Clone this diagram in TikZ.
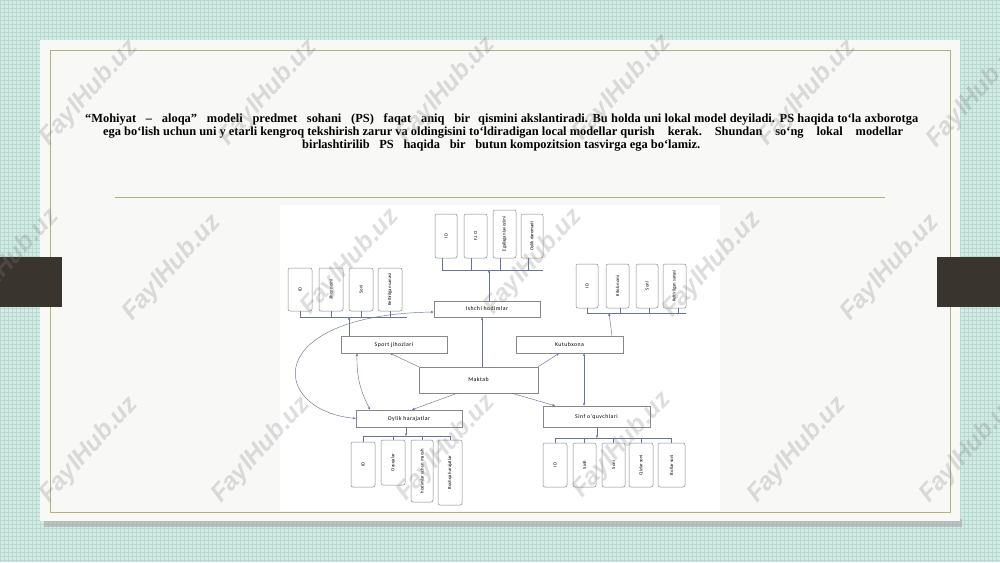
\documentclass[tikz,border=0pt]{standalone}
\usepackage{fontspec}
\setmainfont{Liberation Serif}
\newfontfamily\boxfont[LetterSpace=8]{Carlito}
\newfontfamily\attrfont{Carlito}
\newfontfamily\wmfont{Liberation Sans}
\usetikzlibrary{arrows.meta}
\definecolor{bgc}{RGB}{212,235,229}
\definecolor{gridc}{RGB}{184,217,207}
\definecolor{cardc}{RGB}{248,249,247}
\definecolor{olivec}{RGB}{178,178,122}
\definecolor{tabc}{RGB}{58,52,46}
\definecolor{boxc}{RGB}{135,135,140}
\definecolor{lnc}{RGB}{105,115,160}
\begin{document}
\begin{tikzpicture}[x=1pt,y=-1pt,
 attr/.style={draw=boxc, rounded corners=2pt, fill=white, line width=0.5pt, inner sep=0pt, minimum width=23pt, font=\attrfont\fontsize{4.7}{5}\selectfont},
 mbox/.style={draw=boxc, fill=white, line width=0.5pt, inner sep=0pt, font=\boxfont\fontsize{5.8}{6.5}\selectfont},
 ln/.style={draw=lnc, line width=0.45pt},
 arr/.style={ln, -{Stealth[length=3pt,width=2.4pt]}},
 darr/.style={ln, {Stealth[length=3pt,width=2.4pt]}-{Stealth[length=3pt,width=2.4pt]}},
 wm/.style={font=\wmfont\bfseries\itshape\fontsize{25}{25}\selectfont, text=gray, opacity=0.26, rotate=48, inner sep=0pt},
 ttl/.style={anchor=base west, inner sep=0pt, font=\bfseries\fontsize{12.4}{13}\selectfont}
]
\useasboundingbox (0,0) rectangle (1000,562);
% background
\fill[bgc] (0,0) rectangle (1000,562);
\foreach \i in {0,4,...,1000} \draw[gridc, line width=0.35pt] (\i,0) -- (\i,562);
\foreach \j in {0,4,...,562} \draw[gridc, line width=0.35pt] (0,\j) -- (1000,\j);
% card
\fill[black!35, opacity=0.6] (44,519) rectangle (962,527);
\fill[cardc] (40,40) rectangle (960,521);
\draw[olivec, line width=0.8pt] (50,50) rectangle (950,512);
\fill[white] (280,205) rectangle (720,511);
\draw[olivec, line width=0.8pt] (115,197.5) -- (885,197.5);
% tabs
\fill[tabc] (0,257) rectangle (62,307);
\fill[tabc] (937,257) rectangle (1000,307);
% title
\node[ttl] (t1) at (85,122) {\makebox[833pt][l]{\makebox[385pt][l]{“Mohiyat\hfill–\hfill aloqa”\hfill modeli\hfill predmet\hfill sohani\hfill (PS)\hfill faqat\hfill aniq\hfill bir}\hfill\makebox[440pt][s]{qismini akslantiradi. Bu holda uni lokal model deyiladi. PS haqida to`la axborotga}}};
\node[ttl] (t2) at (103,135) {\makebox[800pt][l]{ega bo`lish uchun uni y etarli kengroq tekshirish zarur va oldingisini to`ldiradigan local modellar qurish\hfill kerak.\hfill Shundan\hfill so`ng\hfill lokal\hfill modellar}};
\node[ttl] (t3) at (302,148) {\makebox[398pt][l]{birlashtirilib\hfill PS\hfill haqida\hfill bir\hfill butun kompozitsion tasvirga ega bo`lamiz.}};

% main boxes
\node[mbox, minimum width=106pt, minimum height=16pt] (ish) at (487,309) {Ishchi hodimlar};
\node[mbox, minimum width=106pt, minimum height=17pt] (spo) at (394,344.5) {Sport jihozlari};
\node[mbox, minimum width=107pt, minimum height=17pt] (kut) at (569.5,344.5) {Kutubxona};
\node[mbox, minimum width=119pt, minimum height=26pt] (mak) at (478.5,380) {Maktab};
\node[mbox, minimum width=106pt, minimum height=17pt] (oyl) at (409,418.5) {Oylik harajatlar};
\node[mbox, minimum width=107pt, minimum height=21pt] (sin) at (596.5,416.5) {Sinf o'quvchlari};

% Ishchi attributes
\node[attr, minimum width=22pt, minimum height=44pt] (i1) at (446,236) {\rotatebox{90}{ID}};
\node[attr, minimum width=23pt, minimum height=44pt] (i2) at (475.5,236) {\rotatebox{90}{F.I.O}};
\node[attr, minimum width=23pt, minimum height=48pt] (i3) at (504.5,234) {\rotatebox{90}{Egallagan lavozimi}};
\node[attr, minimum width=22pt, minimum height=44pt] (i4) at (532,236) {\rotatebox{90}{Oylik daromadi}};
\coordinate (ib) at (0,270);
\foreach \n in {i1,i2,i3,i4} \draw[ln] ([xshift=-4pt]\n.south) -- ([xshift=-4pt]\n.south |- ib);
\draw[ln] ([xshift=-4pt]i1.south |- ib) -- (i4.east |- ib);
\draw[arr] ([xshift=2pt]ish.north) -- ([xshift=2pt]ish.north |- ib);

% Sport attributes
\node[attr, minimum width=24pt, minimum height=43pt] (s1) at (300,289.5) {\rotatebox{90}{ID}};
\node[attr, minimum width=24pt, minimum height=43pt] (s2) at (331,289.5) {\rotatebox{90}{Jihoz nomi}};
\node[attr, minimum width=24pt, minimum height=43pt] (s3) at (361,289.5) {\rotatebox{90}{Soni}};
\node[attr, minimum width=24pt, minimum height=43pt] (s4) at (390,289.5) {\rotatebox{90}{Keltirilgan sanasi}};
\coordinate (sb) at (0,317);
\foreach \n in {s1,s2,s3,s4} \draw[ln] (\n.south) -- (\n.south |- sb);
\draw[ln] (s1.south |- sb) -- ([xshift=5pt]s4.east |- sb);
\draw[arr] ([xshift=-45pt]spo.north) -- ([xshift=-45pt]spo.north |- sb);

% Kutubxona attributes
\node[attr, minimum width=22pt, minimum height=44pt] (k1) at (587,286) {\rotatebox{90}{ID}};
\node[attr, minimum width=23pt, minimum height=44pt] (k2) at (617.5,286) {\rotatebox{90}{Kitob nomi}};
\node[attr, minimum width=22pt, minimum height=44pt] (k3) at (647,286) {\rotatebox{90}{Soni}};
\node[attr, minimum width=23pt, minimum height=44pt] (k4) at (674.5,286) {\rotatebox{90}{Keltirilgan sanasi}};
\coordinate (kb) at (0,313);
\foreach \n/\s in {k1/0,k2/2.5,k3/2,k4/3.5} \draw[ln] ([xshift=\s pt]\n.south) -- ([xshift=\s pt]\n.south |- kb);
\draw[ln] (k1.south |- kb) -- (k4.east |- kb);
\draw[arr] ([xshift=42.5pt]kut.north) -- ([xshift=39.5pt]kut.north |- kb);

% Oylik attributes
\node[attr, minimum width=24pt, minimum height=45pt] (o1) at (363,464.5) {\rotatebox{90}{ID}};
\node[attr, minimum width=24pt, minimum height=45pt] (o2) at (393,462.5) {\rotatebox{90}{Ozuqalar}};
\node[attr, minimum width=22pt, minimum height=62pt] (o3) at (422,471) {\rotatebox{90}{hodimlar uchun maosh}};
\node[attr, minimum width=24pt, minimum height=65pt] (o4) at (450,472.5) {\rotatebox{90}{Boshqa harajatlar}};
\coordinate (ob) at (0,436);
\foreach \n in {o1,o2,o3,o4} \draw[ln] (\n.north) -- (\n.north |- ob);
\draw[ln] (o1.north |- ob) -- (o4.north |- ob);
\draw[arr] ([xshift=-3pt]oyl.south) -- ([xshift=-3pt]oyl.south |- ob);

% Sinf attributes
\node[attr, minimum width=24pt, minimum height=44pt] (c1) at (555,465) {\rotatebox{90}{ID}};
\node[attr, minimum width=23pt, minimum height=44pt] (c2) at (584.5,465) {\rotatebox{90}{Sinfi}};
\node[attr, minimum width=23pt, minimum height=44pt] (c3) at (613.5,465) {\rotatebox{90}{Soni}};
\node[attr, minimum width=24pt, minimum height=44pt] (c4) at (641,465) {\rotatebox{90}{Qizlar soni}};
\node[attr, minimum width=27pt, minimum height=44pt] (c5) at (671.5,465) {\rotatebox{90}{Bollar soni}};
\coordinate (cb) at (0,438);
\foreach \n in {c1,c2,c3,c4,c5} \draw[ln] (\n.north) -- (\n.north |- cb);
\draw[ln] (c1.north |- cb) -- (c5.north |- cb);
\draw[arr] ([xshift=0.5pt]sin.south) -- ([xshift=0.5pt]sin.south |- cb);

% connectors from Maktab
\draw[arr] ([xshift=-5pt]ish.south |- mak.north) -- ([xshift=-5pt]ish.south);
\draw[arr] (mak.north west) -- ([xshift=-4pt]spo.south);
\draw[arr] (mak.north east) -- ([xshift=-10.5pt]kut.south);
\draw[arr] ([xshift=-21.5pt]mak.south) -- ([xshift=3pt]oyl.north);
\draw[arr] ([xshift=33.5pt]mak.south) -- ([xshift=-41.5pt]sin.north);
\draw[darr] ([xshift=14.5pt]kut.south) -- ([xshift=14.5pt]kut.south |- sin.north);
\draw[darr] ([xshift=-37pt]spo.south) to[bend right=14] ([xshift=-39pt]oyl.north);
\draw[darr] ([yshift=-3pt]ish.west) .. controls (260,315) and (270,410) .. (oyl.west);

% watermarks
\foreach \x/\y [count=\k] in {89/93,268/93,446/90,622/88,807/93,976/95,
  10/262,172/268,350/262,533/262,712/265,890/268,
  89/450,261/450,446/448,622/445,797/450,969/450}
  \node[wm] (w\k) at (\x,\y) {FaylHub.uz};
\end{tikzpicture}
\end{document}
